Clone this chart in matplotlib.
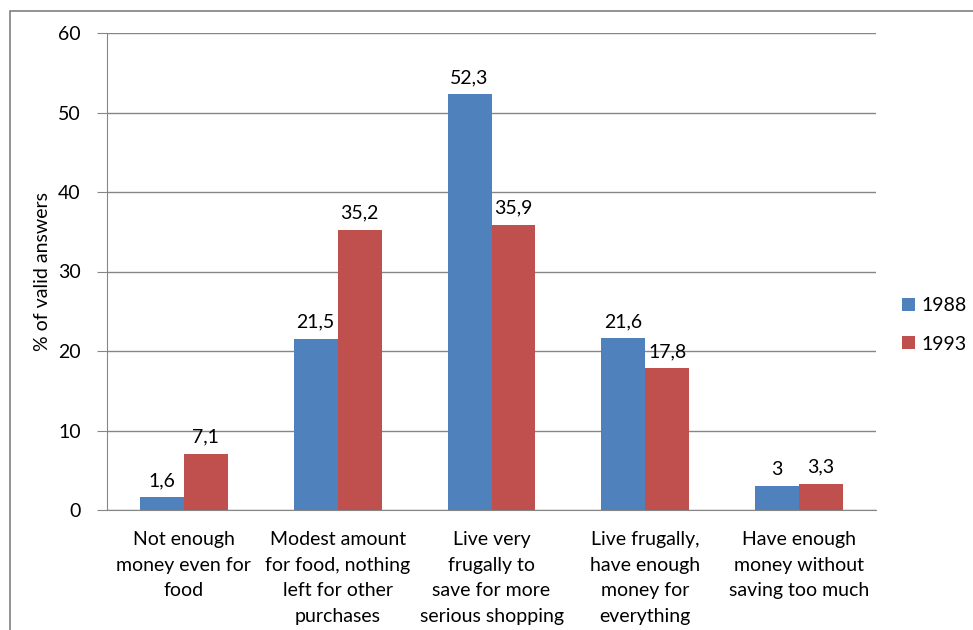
import matplotlib.pyplot as plt
import numpy as np
from matplotlib.patches import Rectangle

categories = ["Not enough\nmoney even for\nfood",
              "Modest amount\nfor food, nothing\nleft for other\npurchases",
              "Live very\nfrugally to\nsave for more\nserious shopping",
              "Live frugally,\nhave enough\nmoney for\neverything",
              "Have enough\nmoney without\nsaving too much"]
vals_1988 = [1.6, 21.5, 52.3, 21.6, 3]
vals_1993 = [7.1, 35.2, 35.9, 17.8, 3.3]
series_names = ["1988", "1993"]

blue = "#4F81BD"
red = "#C0504D"
fs = 14

plt.rcParams['font.family'] = ['Lato', 'DejaVu Sans']

fig = plt.figure(figsize=(9.73, 6.30), dpi=100)
ax = fig.add_axes([107/973, 1 - 510/630, (876-107)/973, (510-33)/630])

# outer chart frame
fig.patches.append(Rectangle((10/973, -0.1), 1.1, 1 - 11/630 + 0.1,
                             transform=fig.transFigure, fill=False,
                             edgecolor="#808080", linewidth=1.2))

x = np.arange(len(categories))
w = 0.286
b1 = ax.bar(x - w/2, vals_1988, w, color=blue, label=series_names[0], zorder=3)
b2 = ax.bar(x + w/2, vals_1993, w, color=red, label=series_names[1], zorder=3)

def fmt(v):
    s = ("%g" % v).replace(".", ",")
    return s

for bars, vals in ((b1, vals_1988), (b2, vals_1993)):
    ax.bar_label(bars, labels=[fmt(v) for v in vals], padding=6, fontsize=fs)

ax.set_xlim(-0.5, len(categories) - 0.5)
ax.set_ylim(0, 60)
ax.set_yticks(range(0, 61, 10))
ax.yaxis.grid(True, color="#868686", linewidth=1)
ax.set_axisbelow(True)
ax.set_xticks(x)
ax.set_xticklabels(categories, fontsize=fs, linespacing=1.62)
ax.tick_params(axis='x', length=0, pad=15)
ax.tick_params(axis='y', length=7, color="#868686", labelsize=fs, pad=12)
for s in ("top", "right"):
    ax.spines[s].set_visible(False)
ax.spines["left"].set_color("#868686")
ax.spines["bottom"].set_color("#868686")
ax.set_ylabel("% of valid answers", fontsize=fs, labelpad=5)

fig.legend(handles=[b1, b2], loc="center left",
           bbox_to_anchor=(902/973, 1 - 325/630), frameon=False,
           borderaxespad=0, borderpad=0,
           fontsize=fs, handlelength=0.65, handleheight=0.65,
           handletextpad=0.35, labelspacing=1.1)

fig.savefig("out.png", dpi=100)
